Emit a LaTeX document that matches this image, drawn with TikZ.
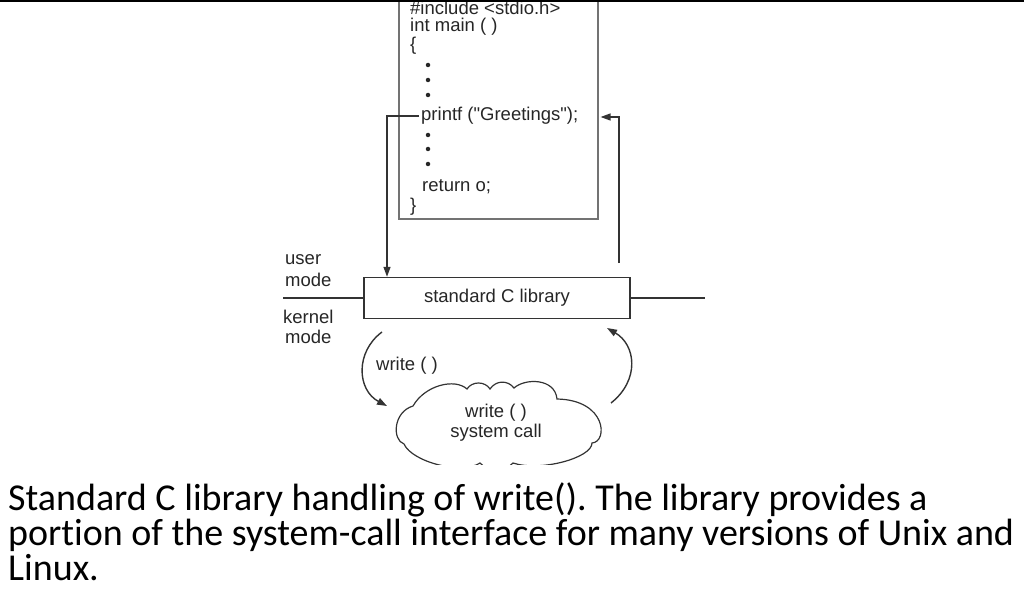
\documentclass[tikz,border=0pt]{standalone}
\usepackage{fontspec}
\newfontfamily\hv{Liberation Sans}
\newfontfamily\capfont{Carlito}[Ligatures=NoCommon]
\usetikzlibrary{arrows.meta,calc}
\begin{document}
\frenchspacing
\begin{tikzpicture}[x=1pt,y=-1pt,
  ln/.style={draw=black!80, line width=1.4pt},
  txt/.style={anchor=west, font=\hv\fontsize{18.5}{20}\selectfont, text=black!85, inner sep=0pt},
  dotn/.style={circle, fill=black!85, inner sep=0pt, minimum size=4.5pt},
  tip/.style={-{Triangle[length=10pt,width=7pt]}},
  captxt/.style={anchor=base west, font=\capfont\fontsize{38}{40}\selectfont, inner sep=0pt}]
\useasboundingbox (0,0) rectangle (1024,604);
\begin{scope}
\clip (0,0) rectangle (1024,464);
% code box
\node[draw=black!55, line width=1.6pt, minimum width=199pt, minimum height=240pt, anchor=south west, inner sep=0pt] (codebox) at (398,220) {};
\node[txt] (inc) at (410,8) {\#include <stdio.h>};
\node[txt] (main) at (410,27) {int main ( )};
\node[txt] (ob) at (410,46) {\{};
\node[dotn] (d1) at (428,65) {};
\node[dotn] (d2) at (428,80) {};
\node[dotn] (d3) at (428,95) {};
\node[txt] (printf) at (421,116) {printf ("Greetings");};
\node[dotn] (d4) at (428,135) {};
\node[dotn] (d5) at (428,149) {};
\node[dotn] (d6) at (428,164) {};
\node[txt] (ret) at (422,187) {return o;};
\node[txt] (cb) at (410,207) {\}};
% top rule
\coordinate (tl) at (0,1);
\coordinate (tr) at (1024,1);
\draw[line width=2pt, black] (tl) -- (tr);
% library box
\node[ln, draw, minimum width=266pt, minimum height=41pt, inner sep=0pt, font=\hv\fontsize{18.5}{20}\selectfont, text=black!85] (lib) at (497,298) {standard C library};
\coordinate (ml) at (283,298);
\coordinate (mr) at (705,298);
\draw[ln] (ml) -- (lib.west);
\draw[ln] (lib.east) -- (mr);
% mode labels
\node[txt] (u1) at (285,260) {user};
\node[txt] (u2) at (285,280) {mode};
\node[txt] (k1) at (283,317) {kernel};
\node[txt] (k2) at (285,337) {mode};
% connectors
\coordinate (lc) at (387,116);
\draw[ln,tip] ([xshift=-2pt]printf.west) -- (lc) -- (lc |- lib.north);
\coordinate (rs) at (619,263);
\coordinate (rc) at (619,117);
\draw[ln,tip] (rs) -- (rc) -- ([xshift=2pt]codebox.east |- rc);
% cloud
\draw[draw=black!80, line width=1.2pt]
  (404,444) .. controls (392,440) and (393,412) .. (413,406)
  .. controls (425,385) and (455,378) .. (467,389)
  .. controls (472,381) and (485,381) .. (490,389)
  .. controls (496,380) and (508,380) .. (514,388)
  .. controls (525,378) and (555,378) .. (557,399)
  .. controls (607,400) and (608,442) .. (592,443)
  .. controls (592,458) and (540,472) .. (513,463)
  .. controls (505,472) and (488,472) .. (480,463)
  .. controls (462,475) and (412,462) .. cycle;
\node[align=center, inner sep=0pt, font=\hv\fontsize{18.5}{20}\selectfont, text=black!85] (sc) at (496,423) {write ( )\\system call};
% curved arrows
\coordinate (w1) at (382,332);
\coordinate (w2) at (387,406);
\draw[ln,tip] (w1) .. controls (355,352) and (357,390) .. (w2);
\node[txt] (wl) at (376,366) {write ( )};
\coordinate (r1) at (611,403);
\coordinate (r2) at (607,328);
\draw[ln,tip] (r1) .. controls (640,380) and (636,345) .. (r2);
\end{scope}
% caption
\node[captxt] (c1) at (8,510) {Standard C library handling of write(). The library provides a};
\node[captxt] (c2) at (8,545) {portion of the system-call interface for many versions of Unix and};
\node[captxt] (c3) at (8,580) {Linux.};
\end{tikzpicture}
\end{document}
